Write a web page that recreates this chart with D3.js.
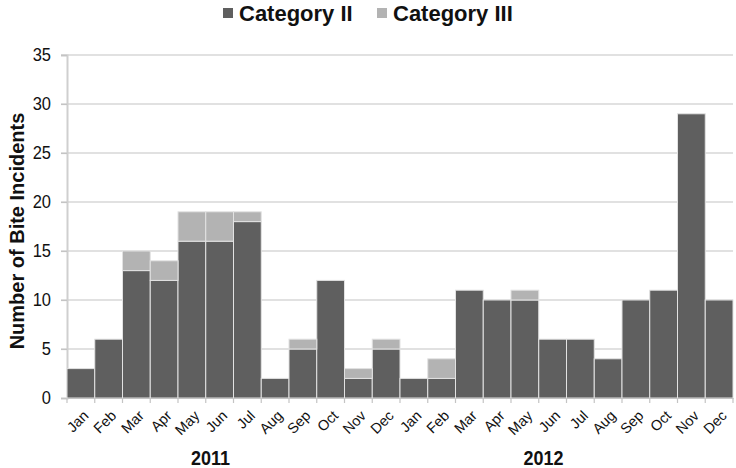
<!DOCTYPE html>
<html>
<head>
<meta charset="utf-8">
<script src="https://cdn.jsdelivr.net/npm/d3@7"></script>
<style>
  body { margin: 0; background: #fff; }
  text { font-family: "Liberation Sans", Arial, sans-serif; fill: #111; }
</style>
</head>
<body>
<div id="chart"></div>
<script>
// month labels, two years side by side
var months = ["Jan","Feb","Mar","Apr","May","Jun","Jul","Aug","Sep","Oct","Nov","Dec"];
var years = ["2011", "2012"];

var catII = [3, 6, 13, 12, 16, 16, 18, 2, 5, 12, 2, 5,
             2, 2, 11, 10, 10, 6, 6, 4, 10, 11, 29, 10];
var catIII = [0, 0, 2, 2, 3, 3, 1, 0, 1, 0, 1, 1,
              0, 2, 0, 0, 1, 0, 0, 0, 0, 0, 0, 0];
var yTicks = [0, 5, 10, 15, 20, 25, 30, 35];
var seriesNames = ["Category II", "Category III"];
var colors = ["#5f5f5f", "#b3b3b3"];

var width = 736, height = 468;
var margin = {top: 55, right: 3, bottom: 70, left: 67};

var svg = d3.select("#chart").append("svg")
  .attr("width", width)
  .attr("height", height);

//build rows for stacking
var rows = catII.map(function(v, i) {
  return {key: i, month: months[i % 12], year: years[Math.floor(i / 12)], II: v, III: catIII[i]};
});

var x = d3.scaleBand()
  .domain(rows.map(function(d) { return d.key; }))
  .range([margin.left, width - margin.right])
  .padding(0);

var y = d3.scaleLinear()
  .domain([0, 35])
  .range([height - margin.bottom, margin.top]);

//gridlines
svg.append("g")
  .selectAll("line")
  .data(yTicks.slice(1))
  .enter().append("line")
  .attr("x1", margin.left - 6)
  .attr("x2", width - margin.right)
  .attr("y1", function(d) { return y(d); })
  .attr("y2", function(d) { return y(d); })
  .attr("stroke", "#c4c4c4")
  .attr("stroke-width", 1.2);

//y axis
var yAxis = svg.append("g")
  .attr("transform", "translate(" + margin.left + ",0)")
  .call(d3.axisLeft(y).tickValues(yTicks).tickSize(6).tickPadding(10));
yAxis.select(".domain").attr("stroke", "#cfcfcf").attr("stroke-width", 2);
yAxis.selectAll(".tick line").attr("stroke", "#c4c4c4").attr("stroke-width", 1.2);
yAxis.selectAll("text")
  .style("font-size", "16.5px")
  .attr("fill", "#111")
  .attr("transform", "scale(1,1.12)");

//stacked bars
var stack = d3.stack().keys(["II", "III"]);
var layers = stack(rows);

svg.append("g")
  .selectAll("g")
  .data(layers)
  .enter().append("g")
  .attr("fill", function(d, i) { return colors[i]; })
  .selectAll("rect")
  .data(function(d) { return d; })
  .enter().append("rect")
  .attr("x", function(d) { return x(d.data.key); })
  .attr("width", x.bandwidth())
  .attr("y", function(d) { return y(d[1]); })
  .attr("height", function(d) { return y(d[0]) - y(d[1]); })
  .attr("stroke", "#e2e2e2")
  .attr("stroke-width", 1);

//x axis
var xAxis = svg.append("g")
  .attr("transform", "translate(0," + y(0) + ")")
  .call(d3.axisBottom(x).tickSize(0).tickFormat(function(k) { return rows[k].month; }));
xAxis.select(".domain").attr("stroke", "#c4c4c4").attr("stroke-width", 1.2);
xAxis.selectAll("text")
  .style("font-size", "14.5px")
  .attr("fill", "#111")
  .attr("text-anchor", "end")
  .attr("dy", "0.35em")
  .attr("transform", "translate(5,15) rotate(-45)")
  .attr("x", 0).attr("y", 0);

//ticks at band edges
svg.append("g")
  .selectAll("line")
  .data(d3.range(rows.length + 1))
  .enter().append("line")
  .attr("x1", function(i) { return margin.left + i * x.bandwidth(); })
  .attr("x2", function(i) { return margin.left + i * x.bandwidth(); })
  .attr("y1", y(0))
  .attr("y2", y(0) + 5)
  .attr("stroke", "#c4c4c4")
  .attr("stroke-width", 1.2);

//year labels
svg.append("g")
  .selectAll("text")
  .data(years)
  .enter().append("text")
  .attr("transform", function(d, i) {
    return "translate(" + (x(i * 12) + x.bandwidth() * 6 - 23) + ",465) scale(1,1.12)";
  })
  .attr("text-anchor", "middle")
  .style("font-size", "18px")
  .style("font-weight", "bold")
  .text(function(d) { return d; });

//y title
svg.append("text")
  .attr("transform", "translate(24,231) rotate(-90)")
  .attr("text-anchor", "middle")
  .style("font-size", "20px")
  .style("font-weight", "bold")
  .text("Number of Bite Incidents");

//legend
var legendPos = [223, 377];
var legend = svg.append("g")
  .selectAll("g")
  .data(seriesNames)
  .enter().append("g")
  .attr("transform", function(d, i) { return "translate(" + legendPos[i] + ",0)"; });
legend.append("rect")
  .attr("x", 0).attr("y", 8)
  .attr("width", 10).attr("height", 10)
  .attr("fill", function(d, i) { return colors[i]; });
legend.append("text")
  .attr("x", 16).attr("y", 21)
  .style("font-size", "22px")
  .style("font-weight", "bold")
  .text(function(d) { return d; });
</script>
</body>
</html>
